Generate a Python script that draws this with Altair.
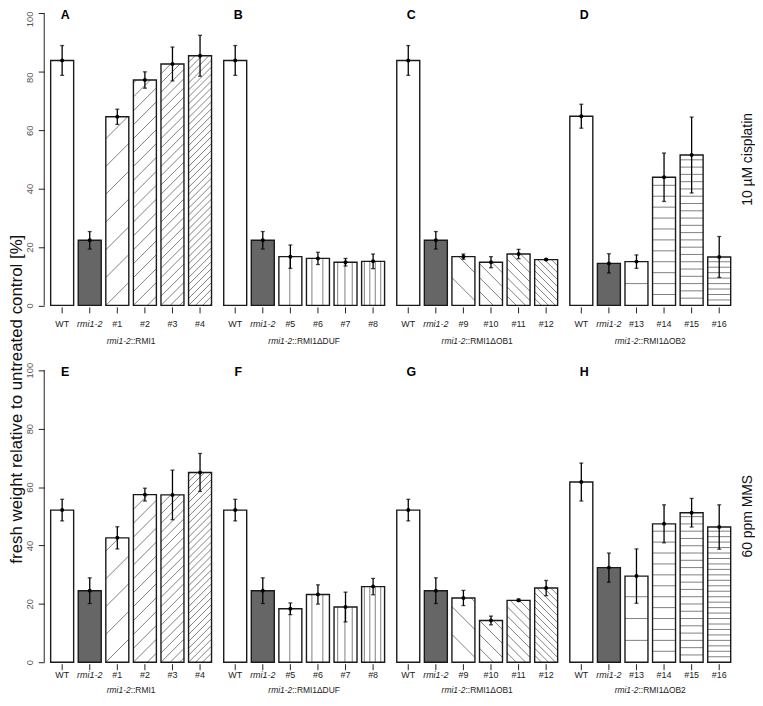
import altair as alt
import pandas as pd
import math

# ---------------- data ----------------
panel_letters = [["A", "B", "C", "D"], ["E", "F", "G", "H"]]
treatments = ["10 µM cisplatin", "60 ppm MMS"]
allele = "rmi1-2"
construct_suffix = ["::RMI1", "::RMI1\u0394DUF", "::RMI1\u0394OB1", "::RMI1\u0394OB2"]
line_labels = [
    ["WT", "rmi1-2", "#1", "#2", "#3", "#4"],
    ["WT", "rmi1-2", "#5", "#6", "#7", "#8"],
    ["WT", "rmi1-2", "#9", "#10", "#11", "#12"],
    ["WT", "rmi1-2", "#13", "#14", "#15", "#16"],
]
cis_means = [
    [83.9, 22.3, 64.6, 77.2, 82.7, 85.5],
    [83.9, 22.3, 16.7, 16.1, 14.8, 15.1],
    [83.9, 22.3, 16.7, 14.8, 17.6, 15.7],
    [64.8, 14.4, 15.0, 43.9, 51.5, 16.6],
]
cis_err = [
    [5.1, 3.0, 2.6, 2.8, 5.8, 7.0],
    [5.1, 3.0, 4.0, 2.1, 1.3, 2.5],
    [5.1, 3.0, 0.9, 1.9, 1.6, 0.3],
    [4.1, 3.3, 2.3, 8.3, 13.0, 7.0],
]
mms_means = [
    [52.1, 24.5, 42.6, 57.4, 57.3, 65.0],
    [52.1, 24.5, 18.3, 23.2, 18.9, 25.9],
    [52.1, 24.5, 22.0, 14.3, 21.2, 25.4],
    [61.7, 32.4, 29.5, 47.4, 51.2, 46.3],
]
mms_err = [
    [3.7, 4.4, 3.8, 2.2, 8.5, 6.5],
    [3.7, 4.4, 2.0, 3.3, 5.1, 2.8],
    [3.7, 4.4, 2.6, 1.5, 0.4, 2.6],
    [6.5, 5.0, 9.3, 6.5, 4.9, 7.6],
]
hatch_kind = ["/", "|", "\\", "-"]
hatch_density = [0, 0, 1, 2, 3, 4]
y_ticks = [0, 20, 40, 60, 80, 100]
y_title = "fresh weight relative to untreated control [%]"

means = [cis_means, mms_means]
errs = [cis_err, mms_err]

# ---------------- layout ----------------
W, H = 698, 654
XMIN, XMAX = -0.08, 30.07
PANEL_STEP = 7.53
YMAX = 222.35
ROW_OFF = [122.2, 0.0]
kx = W / (XMAX - XMIN)
ky = H / YMAX
FONT = "Liberation Sans"

bars, hatch, errors, ticks, letters, glabels, axislines, rlabels = [], [], [], [], [], [], [], []


def hatch_segments(kind, k, left, right, base, top):
    w = (right - left) * kx
    h = (top - base) * ky
    segs = []
    if kind == "-":
        s = 22.0 / k
        j = 1
        while j * s < h - 0.5:
            segs.append((0, j * s, w, j * s))
            j += 1
    elif kind == "|":
        s = 22.0 / k
        p = s / 2
        while p < w - 0.5:
            segs.append((p, 0, p, h))
            p += s
    elif kind == "/":
        d = 28.0 / k
        for j in range(math.ceil(-w / d), math.floor(h / d) + 1):
            c = j * d
            pa, pb = max(0, -c), min(w, h - c)
            if pb - pa > 0.5:
                segs.append((pa, pa + c, pb, pb + c))
    else:
        d = 28.0 / k
        for j in range(1, math.floor((w + h) / d) + 1):
            c = j * d
            pa, pb = max(0, c - h), min(w, c)
            if pb - pa > 0.5:
                segs.append((pa, c - pa, pb, c - pb))
    return [
        dict(x=left + a / kx, y=base + b / ky, x2=left + c2 / kx, y2=base + d2 / ky)
        for a, b, c2, d2 in segs
    ]


def text_w(s, size):
    wid = {"r": .333, "m": .833, "i": .222, "1": .556, "-": .333, "2": .556, ":": .278,
           "R": .722, "M": .833, "I": .278, "\u0394": .668, "D": .722, "U": .722,
           "F": .611, "O": .778, "B": .667}
    return sum(wid.get(ch, .556) for ch in s) * size


for r in range(2):
    off = ROW_OFF[r]
    axislines.append(dict(x=XMIN, y=off, y2=off + 100))
    rlabels.append(dict(x=XMAX, y=off + 50, t=treatments[r]))
    for p in range(4):
        base_x = p * PANEL_STEP
        for i in range(6):
            left = base_x + 0.2 + 1.2 * i
            right = left + 1.0
            v = means[r][p][i]
            e = errs[r][p][i]
            lab = line_labels[p][i]
            bars.append(dict(x=left, x2=right, y=off + v, y0=off,
                             fill="mut" if i == 1 else "ctrl"))
            if hatch_density[i] > 0:
                hatch.extend(hatch_segments(hatch_kind[p], hatch_density[i],
                                            left, right, off, off + v))
            errors.append(dict(xc=left + 0.5, m=off + v, lo=off + v - e, hi=off + v + e))
            ticks.append(dict(xc=left + 0.5, y=off, row=r, lab=lab,
                              it="i" if lab == allele else "n"))
        letters.append(dict(x=base_x + 0.7, y=off + 100, t=panel_letters[r][p]))
        gs = 8.5
        w_it = text_w(allele, gs)
        w_tot = w_it + text_w(construct_suffix[p], gs)
        center = base_x + 3.7
        split = center + (w_it - w_tot / 2) / kx
        glabels.append(dict(x=split, y=off, row=r, a=allele, b=construct_suffix[p]))

bars_df = pd.DataFrame(bars)
hatch_df = pd.DataFrame(hatch)
err_df = pd.DataFrame(errors)
ticks_df = pd.DataFrame(ticks)
letters_df = pd.DataFrame(letters)
gl_df = pd.DataFrame(glabels)
axl_df = pd.DataFrame(axislines)
rl_df = pd.DataFrame(rlabels)

xs = alt.Scale(domain=[XMIN, XMAX], nice=False, zero=False)
axis_vals = [v + o for o in ROW_OFF[::-1] for v in y_ticks]
ys = alt.Scale(domain=[0, YMAX], nice=False, zero=False)

y_axis = alt.Axis(
    values=axis_vals, domain=False, grid=False, ticks=True, tickSize=6,
    tickColor="#222", tickWidth=1,
    labelExpr="format(datum.value > 110 ? datum.value - 122.2 : datum.value, '.0f')",
    labelAngle=270, labelAlign="center", labelBaseline="bottom", labelPadding=4,
    labelOffset={"condition": {"test": "datum.value > 200", "value": 5.5}, "value": 0},
    labelFont=FONT, labelFontSize=9.5, labelColor="#555", labelOverlap=False,
    title=y_title, titleFont=FONT, titleFontSize=17, titleFontWeight="normal",
    titleColor="#111", titleAngle=270, titleAlign="center", titleBaseline="middle",
    titleX=-28, titleY=388.5)

X = lambda f: alt.X(f, type="quantitative", scale=xs, axis=None)
Y = lambda f: alt.Y(f, type="quantitative", scale=ys, axis=y_axis)

base_bars = alt.Chart(bars_df).mark_rect(strokeWidth=0).encode(
    x=X("x"), x2="x2", y=Y("y"), y2="y0",
    fill=alt.Fill("fill:N", scale=alt.Scale(domain=["ctrl", "mut"], range=["white", "#666666"]),
                  legend=None),
)

hatch_layer = alt.Chart(hatch_df).mark_rule(color="#808080", strokeWidth=1).encode(
    x=X("x"), x2="x2", y=Y("y"), y2="y2")

outline = alt.Chart(bars_df).mark_rect(fillOpacity=0, stroke="#1a1a1a", strokeWidth=1.4).encode(
    x=X("x"), x2="x2", y=Y("y"), y2="y0")

err_rule = alt.Chart(err_df).mark_rule(color="black", strokeWidth=1.3).encode(
    x=X("xc"), y=Y("lo"), y2="hi")
cap_lo = alt.Chart(err_df).mark_tick(orient="horizontal", size=4, thickness=1.3, color="black").encode(
    x=X("xc"), y=Y("lo"))
cap_hi = alt.Chart(err_df).mark_tick(orient="horizontal", size=4, thickness=1.3, color="black").encode(
    x=X("xc"), y=Y("hi"))
dots = alt.Chart(err_df).mark_circle(size=16, color="black", opacity=1).encode(
    x=X("xc"), y=Y("m"))

yaxis_line = alt.Chart(axl_df).mark_rule(color="#222", strokeWidth=1).encode(
    x=X("x"), y=Y("y"), y2="y2")

xticks = alt.Chart(ticks_df).mark_rule(color="#222", strokeWidth=1, yOffset=2, y2Offset=8).encode(
    x=X("xc"), y=Y("y"), y2="y")

layers = [base_bars, hatch_layer, outline, err_rule, cap_lo, cap_hi, dots, yaxis_line, xticks]

tick_dy = [18.5, 12.5]
group_dy = [36, 28]
for r in range(2):
    for it, style in (("n", "normal"), ("i", "italic")):
        layers.append(
            alt.Chart(ticks_df).transform_filter(
                f"datum.row == {r} && datum.it == '{it}'"
            ).mark_text(font=FONT, fontSize=9, fontStyle=style, color="#222",
                        baseline="middle", align="center", dy=tick_dy[r]).encode(
                x=X("xc"), y=Y("y"), text="lab:N")
        )
    layers.append(
        alt.Chart(gl_df).transform_filter(f"datum.row == {r}").mark_text(
            font=FONT, fontSize=8.5, fontStyle="italic", color="#222", baseline="middle",
            align="right", dy=group_dy[r]).encode(x=X("x"), y=Y("y"), text="a:N"))
    layers.append(
        alt.Chart(gl_df).transform_filter(f"datum.row == {r}").mark_text(
            font=FONT, fontSize=8.5, color="#222", baseline="middle",
            align="left", dy=group_dy[r]).encode(x=X("x"), y=Y("y"), text="b:N"))

layers.append(
    alt.Chart(letters_df).mark_text(font=FONT, fontSize=12.5, fontWeight="bold", color="black",
                                    baseline="middle", align="center", dx=3, dy=2).encode(
        x=X("x"), y=Y("y"), text="t:N"))
layers.append(
    alt.Chart(rl_df).mark_text(font=FONT, fontSize=14, color="#111", angle=270,
                               baseline="middle", align="center", dy=11).encode(
        x=X("x"), y=Y("y"), text="t:N"))

chart = alt.layer(*layers).properties(
    width=W, height=H,
    autosize=alt.AutoSizeParams(type="none"),
    padding={"left": 36.5, "top": 2.5, "right": 18, "bottom": 33},
).configure_view(stroke=None).configure_axis(grid=False)

chart.save("out.html", embed_options={"renderer": "svg", "actions": False})
